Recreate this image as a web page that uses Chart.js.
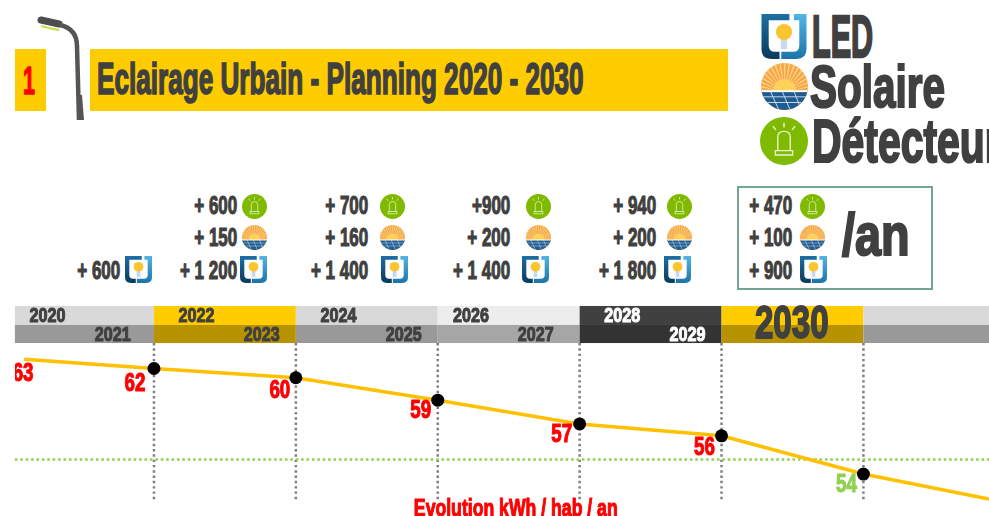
<!DOCTYPE html>
<html lang="fr">
<head>
<meta charset="utf-8">
<title>Eclairage Urbain - Planning 2020 - 2030</title>
<script src="https://cdn.jsdelivr.net/npm/chart.js@4"></script>
<style>
  html, body { margin: 0; padding: 0; background: #fff; }
  #page { position: relative; width: 989px; height: 516px; overflow: hidden; }
  #chartBox { position: absolute; left: 0; top: 290px; width: 989px; height: 226px; }
  #chartBox canvas { display: block; }
  .txt {
    position: absolute; white-space: nowrap; color: #404040; line-height: 1;
    font-family: "Liberation Sans", sans-serif; font-weight: 700;
    -webkit-text-stroke: 1.1px currentColor;
  }
  .box { position: absolute; }
  .icon { position: absolute; }
</style>
</head>
<body>
<svg width="0" height="0" style="position:absolute">
  <defs>
    <linearGradient id="ledDark" x1="0" y1="0" x2="0" y2="1"><stop offset="0" stop-color="#1d6fa5"/><stop offset="1" stop-color="#0a3a5c"/></linearGradient>
    <linearGradient id="ledLight" x1="0" y1="0" x2="0" y2="1"><stop offset="0" stop-color="#52b5e5"/><stop offset="1" stop-color="#1b74a8"/></linearGradient>
    <symbol id="icoLed" viewBox="0 0 100 100">
      <path d="M0 0H62V14H16V70Q16 84 30 84H40V100H22Q0 100 0 78Z" fill="url(#ledDark)"/>
      <path d="M72 0H100V78Q100 100 78 100H44V84H70Q84 84 84 70V14H72Z" fill="url(#ledLight)"/>
      <rect x="43" y="56" width="14" height="22" fill="#c9d8ec"/>
      <circle cx="50" cy="40" r="18" fill="#fbc531"/>
    </symbol>
    <clipPath id="sunClip"><circle cx="50" cy="50" r="50"/></clipPath>
    <symbol id="icoSun" viewBox="0 0 100 100">
      <g clip-path="url(#sunClip)">
        <rect width="100" height="100" fill="#f6a944"/>
        <circle cx="50" cy="62" r="42" fill="none" stroke="#fde3b0" stroke-width="44" stroke-dasharray="2 5" opacity=".8"/>
        <circle cx="50" cy="58" r="24" fill="#fdd25a"/>
        <rect y="60" width="100" height="40" fill="#1f5b8e"/>
        <path d="M0 72H100M0 84H100M20 60L38 100M45 60L62 100M70 60L86 100" stroke="#cfe0ee" stroke-width="2" fill="none"/>
        <rect y="58" width="100" height="4" fill="#fff"/>
      </g>
    </symbol>
    <symbol id="icoDet" viewBox="0 0 100 100">
      <circle cx="50" cy="50" r="50" fill="#7fba00"/>
      <path d="M37 70V42Q37 30 50 30Q63 30 63 42V70M32 70H68V79H32Z" fill="none" stroke="#e8f3cf" stroke-width="3"/>
      <path d="M50 12V22M27 19L33 27M73 19L67 27" stroke="#e8f3cf" stroke-width="3"/>
    </symbol>
  </defs>
</svg>
<div id="page">
  <div id="chartBox"><canvas id="planChart" width="989" height="226"></canvas></div>
</div>
<script>
// ── Données ──────────────────────────────
const yearLabels    = ['2020', '2021', '2022', '2023', '2024', '2025', '2026', '2027', '2028', '2029', '2030'];
const pointYears    = [2020.17, 2022, 2024, 2026, 2028, 2030, 2032, 2033.77];
const curveValues   = [62.7, 62.0, 61.3, 59.6, 57.8, 56.9, 54.0, 52.1];
const pointLabels   = ['63', '62', '60', '59', '57', '56', '54', ''];
const targetValue   = 55.1;
const detectorCounts = ['', '+ 600', '+ 700', '+900', '+ 940', '+ 470'];
const solarCounts    = ['', '+ 150', '+ 160', '+ 200', '+ 200', '+ 100'];
const ledCounts      = ['+ 600', '+ 1 200', '+ 1 400', '+ 1 400', '+ 1 800', '+ 900'];
const titleText   = 'Eclairage Urbain - Planning 2020 - 2030';
const axisCaption = 'Evolution kWh / hab / an';

// ── Mise en page ─────────────────────────
const FONT = '"Liberation Sans", sans-serif';
const DARK = '#404040', RED = '#ff0000', GREEN = '#92d050', YELLOW = '#ffcc00';
const page = document.getElementById('page');

function addBox(x, y, w, h, css) {
    const el = document.createElement('div');
    el.className = 'box';
    el.style.cssText = `left:${x}px;top:${y}px;width:${w}px;height:${h}px;${css}`;
    page.appendChild(el);
}
// cy = centre vertical, x = bord gauche (ou bord droit si right)
function addText(text, x, cy, size, opts = {}) {
    const el = document.createElement('div');
    el.className = 'txt';
    el.textContent = text;
    const sx = opts.sx || 1, sy = opts.sy || 1;
    el.style.fontSize = size + 'px';
    el.style.top = (cy - size / 2) + 'px';
    if (opts.right) {
        el.style.right = (989 - x) + 'px';
        el.style.transformOrigin = 'right center';
    } else {
        el.style.left = x + 'px';
        el.style.transformOrigin = 'left center';
    }
    el.style.transform = `scale(${sx},${sy})`;
    if (opts.color) el.style.color = opts.color;
    if (opts.stroke) el.style.webkitTextStroke = opts.stroke + 'px currentColor';
    page.appendChild(el);
}
function addIcon(id, cx, cy, w, h) {
    const ns = 'http://www.w3.org/2000/svg';
    const svg = document.createElementNS(ns, 'svg');
    svg.setAttribute('class', 'icon');
    svg.setAttribute('width', w);
    svg.setAttribute('height', h);
    svg.style.left = (cx - w / 2) + 'px';
    svg.style.top = (cy - h / 2) + 'px';
    const use = document.createElementNS(ns, 'use');
    use.setAttribute('href', '#' + id);
    svg.appendChild(use);
    page.appendChild(svg);
}

// ── En-tête ──────────────────────────────
addBox(15, 49, 31, 62, `background:${YELLOW}`);
addText('1', 22.5, 80, 39, { color: RED, sx: .55, stroke: 1.4 });
addBox(90, 49, 638, 62, `background:${YELLOW}`);
addText(titleText, 97, 79, 44, { sx: .594, stroke: 1.7 });

const lamp = document.createElementNS('http://www.w3.org/2000/svg', 'svg');
lamp.setAttribute('class', 'icon');
lamp.setAttribute('width', 60);
lamp.setAttribute('height', 115);
lamp.style.left = '30px';
lamp.style.top = '10px';
lamp.innerHTML = `
  <path d="M11 16Q21 19 29 20" stroke="#c4e04a" stroke-width="2" fill="none"/>
  <path d="M11 10L29 14" stroke="#4d4d4d" stroke-width="7" stroke-linecap="round" fill="none"/>
  <path d="M30 15Q47 19 47 36L49 110" stroke="#555" stroke-width="4.5" fill="none"/>
  <path d="M47 85L52 85L54 110H48Z" fill="#555"/>`;
page.appendChild(lamp);

// ── Légende en haut à droite ─────────────
addIcon('icoLed', 784, 36.5, 46, 45);
addText('LED', 812, 37, 60, { sx: .51, stroke: 2.4 });
addIcon('icoSun', 784, 86, 47, 47);
addText('Solaire', 810, 87, 60, { sx: .675, stroke: 2.2 });
addIcon('icoDet', 784, 141, 48, 48);
addText('Détecteur', 812, 141, 62, { sx: .66, stroke: 2.2 });

// ── Compteurs par période ────────────────
const countRight = [120, 237, 368, 510, 656, 792];
const roundIconX = [0, 254, 392, 538, 679, 812];
const ledIconX   = [138.5, 253.5, 394.5, 535.5, 677.5, 813.5];
const rowY       = [205, 237, 270];

ledCounts.forEach((led, i) => {
    if (detectorCounts[i]) {
        addText(detectorCounts[i], countRight[i], rowY[0], 25, { right: true, sx: .68 });
        addIcon('icoDet', roundIconX[i], rowY[0] + 1, 25, 25);
    }
    if (solarCounts[i]) {
        addText(solarCounts[i], countRight[i], rowY[1], 25, { right: true, sx: .68 });
        addIcon('icoSun', roundIconX[i], rowY[1], 25, 25);
    }
    addText(led, countRight[i], rowY[2], 25, { right: true, sx: .68 });
    addIcon('icoLed', ledIconX[i], rowY[2] - 1, 27, 27);
});
addBox(737, 186, 192, 100, 'border:2px solid #6fa591');
addText('/an', 842, 235, 60, { sx: .78, stroke: 2.2 });

// ── Plugin : bandeau des années et étiquettes ──
const columnEdges = [2020.04, 2022, 2024, 2026, 2028, 2030, 2032, 2033.77];
const upperColors = ['#d9d9d9', YELLOW, '#d9d9d9', '#ededed', '#404040', YELLOW, '#d9d9d9'];
const lowerColors = ['#999999', '#b79300', '#999999', '#a6a6a6', '#333333', '#b79300', '#999999'];
const rowEdges    = [66.74, 65.30, 63.93];   // haut, séparation, bas du bandeau (échelle y)
const yearTextX   = [2020.5, 2021.42, 2022.6, 2023.52, 2024.6, 2025.52, 2026.47, 2027.38, 2028.6, 2029.52, 2030.99];
const labelShift  = [[-1, 15], [-19, 16], [-16, 13.5], [-17, 11], [-18, 11], [-17, 12], [-17, 11], [0, 0]];

function drawHeavy(ctx, text, x, y, size, color, sx = 1, sy = 1, weight = 1.1) {
    ctx.save();
    ctx.translate(x, y);
    ctx.scale(sx, sy);
    ctx.font = `bold ${size}px ${FONT}`;
    ctx.textAlign = 'center';
    ctx.textBaseline = 'middle';
    ctx.fillStyle = color;
    ctx.strokeStyle = color;
    ctx.lineWidth = weight;
    ctx.fillText(text, 0, 0);
    ctx.strokeText(text, 0, 0);
    ctx.restore();
}

const yearBand = {
    id: 'yearBand',
    beforeDatasetsDraw(chart) {
        const { ctx, scales: { x, y } } = chart;
        upperColors.forEach((c, i) => {
            const x0 = x.getPixelForValue(columnEdges[i]), x1 = x.getPixelForValue(columnEdges[i + 1]);
            ctx.fillStyle = c;
            ctx.fillRect(x0, y.getPixelForValue(rowEdges[0]), x1 - x0, y.getPixelForValue(rowEdges[1]) - y.getPixelForValue(rowEdges[0]));
            ctx.fillStyle = lowerColors[i];
            ctx.fillRect(x0, y.getPixelForValue(rowEdges[1]), x1 - x0, y.getPixelForValue(rowEdges[2]) - y.getPixelForValue(rowEdges[1]));
        });
        yearLabels.forEach((label, i) => {
            const tx = x.getPixelForValue(yearTextX[i]);
            if (label === '2030') {
                drawHeavy(ctx, label, tx, y.getPixelForValue(rowEdges[1]), 46, DARK, .72, 1, 1.8);
            } else {
                const row = i % 2 === 0 ? 0 : 1;
                const ty = (y.getPixelForValue(rowEdges[row]) + y.getPixelForValue(rowEdges[row + 1])) / 2 + 1;
                const col = label === '2028' || label === '2029' ? '#ffffff' : DARK;
                drawHeavy(ctx, label, tx, ty, 21, col, .77);
            }
        });
    },
    afterDatasetsDraw(chart) {
        const { ctx, scales: { x, y } } = chart;
        const pts = chart.getDatasetMeta(chart.data.datasets.length - 1).data;
        ctx.save();
        ctx.beginPath();
        ctx.rect(x.getPixelForValue(2020.04), 0, chart.width, chart.height);
        ctx.clip();
        pointLabels.forEach((label, i) => {
            if (!label) return;
            const color = label === '54' ? GREEN : RED;
            drawHeavy(ctx, label, pts[i].x + labelShift[i][0], pts[i].y + labelShift[i][1], 25, color, .75);
        });
        ctx.restore();
        drawHeavy(ctx, axisCaption, x.getPixelForValue(2027.1), y.getPixelForValue(51.3), 24, RED, .735);
    }
};

// ── Graphique ────────────────────────────
const dottedLines = pointYears.slice(1, 7).map(year => ({
    data: [{ x: year, y: rowEdges[2] }, { x: year, y: 52.03 }],
    borderColor: '#7f7f7f',
    borderWidth: 2.5,
    borderDash: [2.4, 2.9],
    pointRadius: 0,
    order: 3
}));

new Chart(document.getElementById('planChart'), {
    type: 'line',
    data: {
        datasets: [
            ...dottedLines,
            {
                data: [{ x: columnEdges[0], y: targetValue }, { x: 2033.77, y: targetValue }],
                borderColor: GREEN,
                borderWidth: 2.5,
                borderDash: [2.6, 2.8],
                pointRadius: 0,
                order: 2
            },
            {
                data: pointYears.map((year, i) => ({ x: year, y: curveValues[i] })),
                borderColor: '#ffc000',
                borderWidth: 3.5,
                pointBackgroundColor: '#000',
                pointBorderWidth: 0,
                pointRadius: ctx => (ctx.dataIndex > 0 && ctx.dataIndex < 7 ? 6.5 : 0),
                order: 1
            }
        ]
    },
    options: {
        responsive: false,
        animation: false,
        layout: { padding: 0 },
        plugins: { legend: { display: false }, tooltip: { enabled: false }, title: { display: false } },
        scales: {
            x: { type: 'linear', display: false, min: 2019.83, max: 2033.77 },
            y: { display: false, min: 50.82, max: 67.95 }
        }
    },
    plugins: [yearBand]
});
</script>
</body>
</html>
